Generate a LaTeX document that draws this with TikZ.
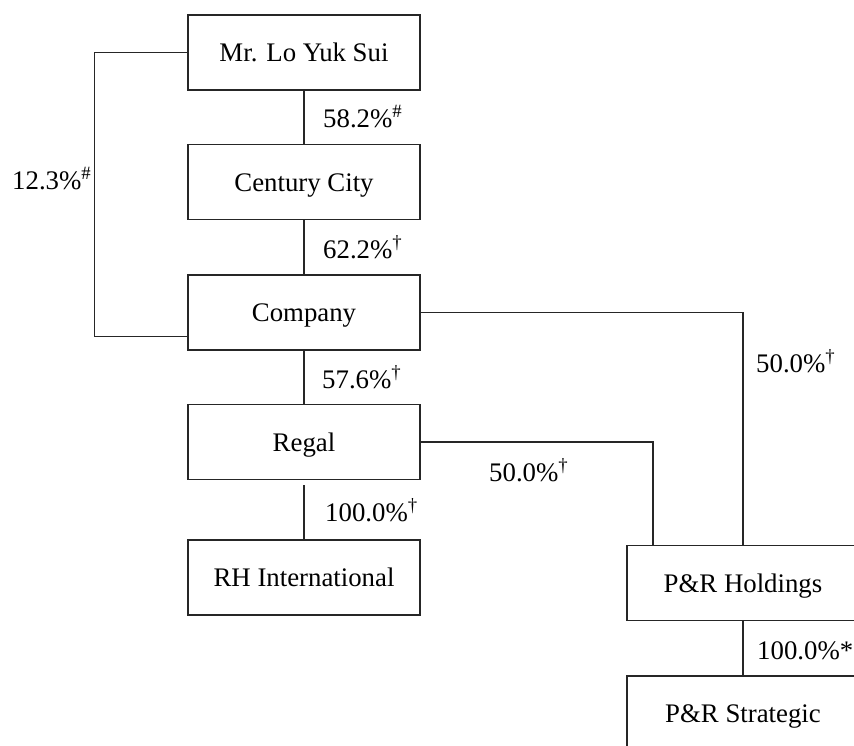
\documentclass[tikz,border=0pt]{standalone}
\usepackage{fontspec}
\setmainfont{Liberation Serif}
\begin{document}
\begin{tikzpicture}[x=1pt,y=-1pt,
  box/.style={draw=black!85,line width=1.2pt,minimum width=232pt,minimum height=75pt,inner sep=0pt,text height=18pt,text depth=0pt,font=\fontsize{26.8}{30}\selectfont},
  conn/.style={draw=black!85,line width=1.2pt},
  pct/.style={anchor=base west,inner sep=0pt,font=\fontsize{26.8}{30}\selectfont}]
\useasboundingbox (0,0) rectangle (854,745);
\clip (0,0) rectangle (854,745);
\node[box] (mr) at (304,52.5) {Mr. Lo Yuk Sui};
\node[box] (cc) at (304,182) {Century City};
\node[box] (co) at (304,312.5) {Company};
\node[box] (re) at (304,442) {Regal};
\node[box] (rh) at (304,577.5) {RH International};
\node[box] (ph) at (743,583) {P\&R Holdings};
\node[box] (ps) at (743,713.5) {P\&R Strategic};
\draw[conn] (mr) -- (cc);
\draw[conn] (cc) -- (co);
\draw[conn] (co) -- (re);
\draw[conn] ([yshift=-5pt]re.south) -- (rh);
\draw[conn] (mr.west) -- ++(-93,0) |- ([yshift=14pt]co.south west);
\draw[conn] (co.east) -| (ph.north);
\draw[conn] (re.east) -| ([xshift=-90pt]ph.north);
\draw[conn] (ph) -- (ps);
\node[pct] (l1) at (323,127) {58.2\%\textsuperscript{\#}};
\node[pct] (l2) at (323,258) {62.2\%\textsuperscript{†}};
\node[pct] (l3) at (322,388) {57.6\%\textsuperscript{†}};
\node[pct] (l4) at (325,521) {100.0\%\textsuperscript{†}};
\node[pct] (l5) at (12,189) {12.3\%\textsuperscript{\#}};
\node[pct] (l6) at (756,372) {50.0\%\textsuperscript{†}};
\node[pct] (l7) at (489,481) {50.0\%\textsuperscript{†}};
\node[pct] (l8) at (757,659) {100.0\%*};
\end{tikzpicture}
\end{document}
